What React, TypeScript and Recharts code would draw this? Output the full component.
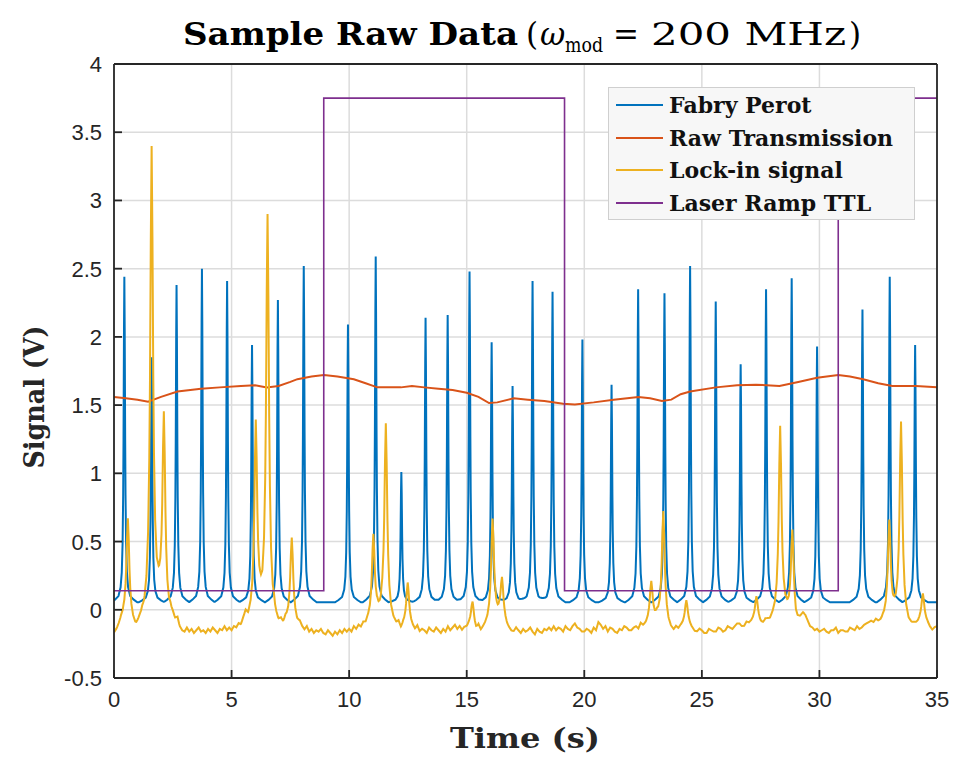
import { CartesianGrid, Legend, Line, LineChart, XAxis, YAxis } from "recharts";

const timeTicks = [0, 5, 10, 15, 20, 25, 30, 35];
const signalTicks = [-0.5, 0, 0.5, 1, 1.5, 2, 2.5, 3, 3.5, 4];
const seriesNames = ["Fabry Perot", "Raw Transmission", "Lock-in signal", "Laser Ramp TTL"];

// Fabry Perot transmission peaks (s, V)
const fabryPeakTimes = [
  0.44, 1.6, 2.66, 3.74, 4.81, 5.87, 6.97, 8.07, 9.95, 11.13, 12.22, 13.25,
  14.19, 15.12, 16.06, 16.95, 17.8, 18.65, 19.92, 21.16, 22.29, 23.41, 24.5,
  25.59, 26.65, 27.73, 28.82, 29.9, 31.83, 32.99, 34.07,
];
const fabryPeakHeights = [
  2.44, 1.85, 2.38, 2.5, 2.41, 1.94, 2.27, 2.52, 2.09, 2.59, 1.01, 2.14, 2.16,
  2.48, 1.96, 1.64, 2.41, 2.33, 1.98, 1.65, 2.35, 2.32, 2.52, 2.26, 1.8, 2.35,
  2.43, 1.93, 2.2, 2.44, 1.94,
];
const fabryFloor = 0.055;

// Lock-in peaks (s, V)
const lockinPeakTimes = [
  0.59, 1.6, 2.12, 5.6, 6.03, 6.53, 7.56, 11.03, 11.56, 12.49, 15.25, 16.1,
  16.5, 22.85, 23.36, 24.34, 27.32, 28.33, 28.85, 29.3, 32.97, 33.47, 34.4,
];
const lockinPeakHeights = [
  0.67, 3.38, 1.41, -0.03, 1.35, 2.88, 0.53, 0.54, 1.36, 0.2, 0.06, 0.66, 0.22,
  0.2, 0.72, 0.07, 0.1, 1.34, 0.57, -0.03, 0.64, 1.37, 0.12,
];

// Lock-in floor, one reading every 0.1 s from 0 to 35 s
const lockinFloorStep = 0.1;
const lockinFloor = [
  -0.17, -0.15, -0.12, -0.08, -0.06, -0.05, -0.06, -0.08, -0.1, -0.12,
  -0.11, -0.09, -0.07, -0.08, -0.05, -0.03, -0.02, -0.01, 0.0, 0.01,
  0.0, -0.01, -0.02, -0.04, -0.03, -0.05, -0.08, -0.06, -0.12, -0.15,
  -0.16, -0.13, -0.16, -0.14, -0.17, -0.15, -0.13, -0.16, -0.15, -0.17,
  -0.14, -0.16, -0.13, -0.15, -0.17, -0.14, -0.15, -0.12, -0.15, -0.13,
  -0.15, -0.12, -0.13, -0.1, -0.11, -0.08, -0.07, -0.09, -0.06, -0.05,
  -0.05, -0.06, -0.04, -0.06, -0.05, -0.04, -0.06, -0.08, -0.07, -0.11,
  -0.12, -0.09, -0.1, -0.07, -0.08, -0.06, -0.07, -0.09, -0.11, -0.1,
  -0.13, -0.15, -0.12, -0.16, -0.14, -0.17, -0.15, -0.16, -0.14, -0.17,
  -0.18, -0.15, -0.17, -0.19, -0.16, -0.18, -0.15, -0.17, -0.14, -0.16,
  -0.14, -0.16, -0.12, -0.14, -0.11, -0.13, -0.1, -0.11, -0.08, -0.07,
  -0.05, -0.06, -0.05, -0.07, -0.04, -0.05, -0.05, -0.07, -0.09, -0.11,
  -0.12, -0.1, -0.14, -0.11, -0.1, -0.08, -0.11, -0.13, -0.15, -0.12,
  -0.16, -0.14, -0.15, -0.17, -0.13, -0.15, -0.16, -0.13, -0.15, -0.17,
  -0.14, -0.16, -0.12, -0.15, -0.13, -0.11, -0.14, -0.12, -0.15, -0.13,
  -0.13, -0.11, -0.1, -0.13, -0.15, -0.12, -0.16, -0.14, -0.12, -0.1,
  -0.08, -0.07, -0.06, -0.07, -0.06, -0.08, -0.09, -0.12, -0.14, -0.16,
  -0.16, -0.13, -0.15, -0.17, -0.14, -0.16, -0.15, -0.13, -0.16, -0.18,
  -0.14, -0.16, -0.17, -0.14, -0.15, -0.13, -0.15, -0.12, -0.15, -0.13,
  -0.14, -0.16, -0.12, -0.14, -0.15, -0.12, -0.1, -0.13, -0.14, -0.16,
  -0.16, -0.14, -0.15, -0.17, -0.13, -0.15, -0.09, -0.11, -0.14, -0.12,
  -0.16, -0.13, -0.14, -0.16, -0.17, -0.14, -0.15, -0.12, -0.13, -0.15,
  -0.15, -0.13, -0.12, -0.14, -0.1, -0.12, -0.11, -0.09, -0.07, -0.08,
  -0.08, -0.06, -0.07, -0.06, -0.08, -0.1, -0.13, -0.15, -0.16, -0.13,
  -0.14, -0.12, -0.11, -0.1, -0.1, -0.12, -0.14, -0.16, -0.16, -0.14,
  -0.15, -0.17, -0.17, -0.14, -0.15, -0.16, -0.16, -0.13, -0.14, -0.16,
  -0.15, -0.12, -0.13, -0.14, -0.12, -0.1, -0.1, -0.12, -0.12, -0.09,
  -0.1, -0.09, -0.08, -0.08, -0.08, -0.1, -0.1, -0.07, -0.08, -0.09,
  -0.07, -0.06, -0.05, -0.05, -0.05, -0.04, -0.05, -0.06, -0.05, -0.08,
  -0.11, -0.09, -0.07, -0.05, -0.05, -0.08, -0.12, -0.13, -0.15, -0.14,
  -0.16, -0.15, -0.14, -0.16, -0.17, -0.15, -0.15, -0.13, -0.17, -0.15,
  -0.15, -0.16, -0.16, -0.13, -0.14, -0.15, -0.12, -0.14, -0.13, -0.11,
  -0.1, -0.09, -0.08, -0.09, -0.07, -0.09, -0.09, -0.07, -0.06, -0.05,
  -0.04, -0.06, -0.05, -0.05, -0.04, -0.06, -0.07, -0.09, -0.12, -0.12,
  -0.11, -0.1, -0.09, -0.07, -0.06, -0.08, -0.1, -0.13, -0.15, -0.13,
  -0.12,
];

// Raw transmission (s, V)
const transmissionTimes = [
  0, 0.5, 1.0, 1.45, 2.0, 2.7, 3.7, 4.5, 5.4, 6.0, 6.5, 7.0, 7.5, 7.8, 8.4,
  8.93, 9.5, 10.2, 10.7, 11.2, 11.7, 12.2, 12.67, 13.2, 13.8, 14.4, 15.0, 15.5,
  15.95, 16.3, 17.0, 17.6, 18.3, 19.1, 19.6, 20.4, 21.25, 22.3, 22.8, 23.3,
  23.7, 24.1, 24.5, 25.6, 26.5, 27.3, 28.3, 29.1, 29.9, 30.8, 31.3, 31.86,
  32.5, 33.1, 34.1, 35,
];
const transmissionValues = [
  1.56, 1.55, 1.54, 1.525, 1.56, 1.6, 1.62, 1.63, 1.64, 1.645, 1.63, 1.64,
  1.67, 1.69, 1.71, 1.72, 1.71, 1.69, 1.66, 1.63, 1.63, 1.63, 1.64, 1.63, 1.62,
  1.61, 1.59, 1.56, 1.515, 1.52, 1.55, 1.54, 1.53, 1.51, 1.505, 1.52, 1.54,
  1.56, 1.55, 1.53, 1.54, 1.58, 1.6, 1.63, 1.645, 1.65, 1.64, 1.67, 1.7, 1.72,
  1.71, 1.69, 1.66, 1.64, 1.64, 1.63,
];

// Laser ramp TTL level changes (s, V)
const rampTimes = [0, 8.92, 19.16, 30.8, 35];
const rampValues = [0.14, 3.75, 0.14, 3.75, 3.75];

// resonance line shapes: distance from centre (s) -> share of the peak
const fabryProfile = [
  [0, 1], [0.015, 0.84], [0.035, 0.5], [0.05, 0.33], [0.075, 0.18],
  [0.11, 0.092], [0.16, 0.046], [0.25, 0.019], [0.4, 0.008], [0.55, 0],
];
const lockinProfile = [
  [0, 1], [0.035, 0.8], [0.07, 0.5], [0.1, 0.33], [0.15, 0.18],
  [0.22, 0.09], [0.32, 0.045], [0.45, 0.02], [0.65, 0],
];

const BLUE = "#0072BD";
const ORANGE = "#D95319";
const YELLOW = "#EDB120";
const PURPLE = "#7E2F8E";
const AXIS = "#262626";
const SERIF = "'DejaVu Serif', 'Liberation Serif', serif";
const SANS = "'Liberation Sans', Arial, sans-serif";

function profileAt(profile: number[][], dt: number) {
  const d = Math.abs(dt);
  for (let i = 1; i < profile.length; i++) {
    const [d0, f0] = profile[i - 1];
    const [d1, f1] = profile[i];
    if (d <= d1) return f0 + ((f1 - f0) * (d - d0)) / (d1 - d0);
  }
  return 0;
}

function lockinFloorAt(t: number) {
  const i = Math.min(Math.floor(t / lockinFloorStep), lockinFloor.length - 2);
  const u = (t - i * lockinFloorStep) / lockinFloorStep;
  return lockinFloor[i] + (lockinFloor[i + 1] - lockinFloor[i]) * u;
}

function buildPeakSeries(
  peakTimes: number[],
  peakHeights: number[],
  profile: number[][],
  floorAt: (t: number) => number,
  baseTimes: number[],
) {
  const times = new Set<number>(baseTimes.map((t) => Math.round(t * 1000) / 1000));
  peakTimes.forEach((tp) =>
    profile.forEach(([d]) => {
      times.add(Math.round((tp - d) * 1000) / 1000);
      times.add(Math.round((tp + d) * 1000) / 1000);
    }),
  );
  return [...times]
    .filter((t) => t >= 0 && t <= 35)
    .sort((a, b) => a - b)
    .map((t) => ({
      t,
      v:
        floorAt(t) +
        peakTimes.reduce(
          (sum, tp, i) =>
            sum + (peakHeights[i] - floorAt(tp)) * profileAt(profile, t - tp),
          0,
        ),
    }));
}

const fabryData = buildPeakSeries(
  fabryPeakTimes,
  fabryPeakHeights,
  fabryProfile,
  () => fabryFloor,
  [0, 35],
);
const lockinData = buildPeakSeries(
  lockinPeakTimes,
  lockinPeakHeights,
  lockinProfile,
  lockinFloorAt,
  lockinFloor.map((_, i) => i * lockinFloorStep),
);
const transmissionData = transmissionTimes.map((t, i) => ({
  t,
  v: transmissionValues[i],
}));
const rampData = rampTimes.map((t, i) => ({ t, v: rampValues[i] }));

function YTick({ x, y, payload }: any) {
  return (
    <text x={x} y={y} dy={8} textAnchor="end" fontFamily={SANS} fontSize={22} fill={AXIS}>
      {payload.value}
    </text>
  );
}

function XTick({ x, y, payload }: any) {
  return (
    <text x={x} y={y} dy={19} textAnchor="middle" fontFamily={SANS} fontSize={22} fill={AXIS}>
      {payload.value}
    </text>
  );
}

function LegendBox({ payload }: any) {
  const items = [...(payload || [])].sort(
    (a: any, b: any) => seriesNames.indexOf(a.value) - seriesNames.indexOf(b.value),
  );
  return (
    <div
      style={{
        width: 307,
        height: 133,
        boxSizing: "border-box",
        border: "1px solid #cfcfcf",
        background: "#f7f7f7",
        paddingTop: 1,
      }}
    >
      {items.map((item: any) => (
        <div
          key={item.value}
          style={{ display: "flex", alignItems: "center", height: 32.5 }}
        >
          <svg width={60} height={4} style={{ flex: "none" }}>
            <line x1={7} x2={54} y1={2} y2={2} stroke={item.color} strokeWidth={2} />
          </svg>
          <span
            style={{
              fontFamily: SERIF,
              fontWeight: "bold",
              fontSize: 22,
              color: "#111",
              lineHeight: "32px",
            }}
          >
            {item.value}
          </span>
        </div>
      ))}
    </div>
  );
}

export default function App() {
  return (
    <div style={{ position: "absolute", left: 0, top: 0, width: 956, height: 762, background: "#fff" }}>
      <LineChart width={956} height={762} margin={{ top: 63, right: 18, bottom: 44, left: 54 }}>
        <CartesianGrid stroke="#dcdcdc" strokeWidth={1.5} horizontalValues={signalTicks} verticalValues={timeTicks} />
        <XAxis
          dataKey="t"
          type="number"
          domain={[0, 35]}
          ticks={timeTicks}
          allowDataOverflow
          height={40}
          stroke={AXIS}
          strokeWidth={1.8}
          tickSize={-8}
          tickMargin={18}
          tick={<XTick />}
        />
        <XAxis
          xAxisId="top"
          orientation="top"
          dataKey="t"
          type="number"
          domain={[0, 35]}
          ticks={timeTicks}
          allowDataOverflow
          height={1}
          stroke={AXIS}
          strokeWidth={1.8}
          tickSize={-8}
          tick={false}
        />
        <YAxis
          type="number"
          domain={[-0.5, 4]}
          ticks={signalTicks}
          allowDataOverflow
          width={60}
          stroke={AXIS}
          strokeWidth={1.8}
          tickSize={-8}
          tickMargin={20}
          tick={<YTick />}
        />
        <YAxis
          yAxisId="right"
          orientation="right"
          type="number"
          domain={[-0.5, 4]}
          ticks={signalTicks}
          allowDataOverflow
          width={1}
          stroke={AXIS}
          strokeWidth={1.8}
          tickSize={-8}
          tick={false}
        />
        <Line data={fabryData} dataKey="v" name={seriesNames[0]} stroke={BLUE} strokeWidth={2} dot={false} isAnimationActive={false} />
        <Line data={transmissionData} dataKey="v" name={seriesNames[1]} stroke={ORANGE} strokeWidth={2} dot={false} isAnimationActive={false} />
        <Line data={lockinData} dataKey="v" name={seriesNames[2]} stroke={YELLOW} strokeWidth={2} dot={false} isAnimationActive={false} />
        <Line data={rampData} dataKey="v" name={seriesNames[3]} type="stepAfter" stroke={PURPLE} strokeWidth={1.6} dot={false} isAnimationActive={false} />
        <Legend
          layout="vertical"
          align="center"
          verticalAlign="middle"
          wrapperStyle={{ left: 608, top: 87, width: 307, height: 133 }}
          content={<LegendBox />}
        />
      </LineChart>
      <svg width={956} height={762} style={{ position: "absolute", left: 0, top: 0, pointerEvents: "none" }}>
        <text x={183} y={45} fontFamily={SERIF} fontWeight="bold" fontSize={31} fill="#000" textLength={335} lengthAdjust="spacingAndGlyphs">
          Sample Raw Data
        </text>
        <text x={526} y={45} fontFamily={SERIF} fontSize={31} fill="#000">(</text>
        <text x={540} y={45} fontFamily={SERIF} fontStyle="italic" fontSize={31} fill="#000">ω</text>
        <text x={565} y={52} fontFamily={SERIF} fontSize={21} fill="#000" textLength={38} lengthAdjust="spacingAndGlyphs">mod</text>
        <text x={613} y={45} fontFamily={SERIF} fontSize={31} fill="#000">=</text>
        <text x={651} y={45} fontFamily={SERIF} fontSize={31} fill="#000" textLength={195} lengthAdjust="spacingAndGlyphs">
          200 MHz
        </text>
        <text x={849} y={45} fontFamily={SERIF} fontSize={31} fill="#000">)</text>
        <text
          transform="translate(44, 397) rotate(-90)"
          textAnchor="middle"
          fontFamily={SERIF}
          fontWeight="bold"
          fontSize={28}
          fill={AXIS}
          textLength={143}
          lengthAdjust="spacingAndGlyphs"
        >
          Signal (V)
        </text>
        <text
          x={525}
          y={748}
          textAnchor="middle"
          fontFamily={SERIF}
          fontWeight="bold"
          fontSize={28}
          fill={AXIS}
          textLength={150}
          lengthAdjust="spacingAndGlyphs"
        >
          Time (s)
        </text>
      </svg>
    </div>
  );
}
